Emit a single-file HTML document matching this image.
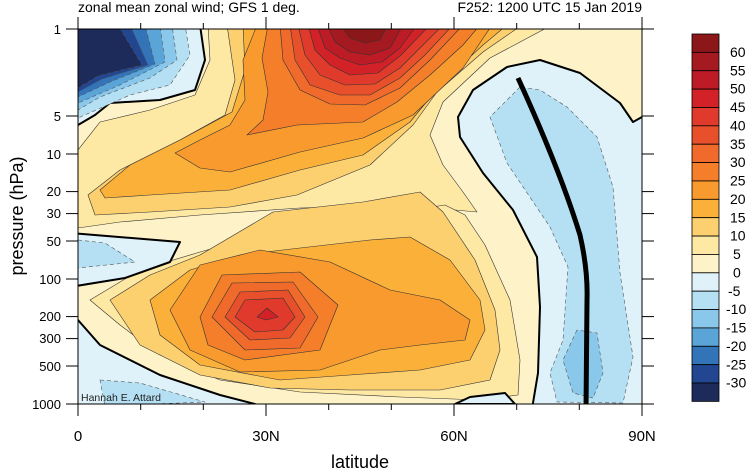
<!DOCTYPE html>
<html><head><meta charset="utf-8"><style>
html,body{margin:0;padding:0;background:#fff;}
svg{display:block;font-family:"Liberation Sans",sans-serif;}
</style></head><body>
<svg width="750" height="471" viewBox="0 0 750 471">
<defs><clipPath id="c"><rect x="78" y="29" width="564" height="375"/></clipPath></defs>
<g clip-path="url(#c)" stroke="#333" stroke-width="0.6" stroke-linejoin="round">
<rect x="78" y="29" width="564" height="375" fill="#fef3c8" stroke="none"/>
<!-- upper positive -->
<polygon fill="#fde8a4" points="208,25 552,25 490,58 443,102 430,135 443,165 463,192 477,212 400,205 300,208 200,215 120,222 78,228 78,150 100,122 150,110 195,95 210,60"/>
<polygon fill="#fcd06f" points="227,25 522,25 483,52 437,92 413,125 370,165 297,195 230,207 150,212 95,215 88,195 120,170 180,140 225,115 235,80"/>
<polygon fill="#fbb03a" points="243,25 507,25 483,45 443,82 410,122 363,155 300,170 230,190 150,195 105,198 100,190 130,165 180,140 232,112 245,70"/>
<polygon fill="#f99a2e" points="175,153 200,140 230,125 245,100 243,60 257,25 492,25 463,68 413,115 363,138 300,152 230,172 200,168"/>
<polygon fill="#f47e2a" points="268,25 262,58 268,92 263,120 247,135 297,125 363,122 397,102 430,75 463,45 480,25"/>
<polygon fill="#f06a2b" points="280,25 283,60 300,90 330,104 365,105 400,88 430,60 463,25"/>
<polygon fill="#e8502c" points="290,25 295,60 310,85 340,95 370,95 400,78 425,55 453,25"/>
<polygon fill="#df3a2b" points="298,25 305,55 320,75 345,85 375,84 400,68 420,48 443,25"/>
<polygon fill="#d32128" points="308,25 315,50 330,65 350,75 378,73 400,56 430,25"/>
<polygon fill="#bd1b25" points="317,25 325,48 340,58 360,65 382,62 400,48 417,25"/>
<polygon fill="#a51a20" points="327,25 335,42 350,52 370,55 390,48 403,25"/>
<polygon fill="#8c1719" points="340,25 350,38 365,43 380,40 388,25"/>
<!-- lower positive -->
<polygon fill="#fde8a4" points="90,300 140,270 200,252 260,235 320,222 400,212 445,205 465,215 485,245 510,300 520,360 518,395 480,400 400,397 300,392 220,380 160,355 120,325"/>
<polygon fill="#fcd06f" points="110,300 150,275 200,255 273,212 363,202 420,192 443,212 475,260 495,310 500,350 490,380 440,390 350,390 270,388 200,375 140,345"/>
<polygon fill="#fbb03a" points="150,300 190,270 240,255 300,248 370,240 410,237 450,260 480,300 485,330 470,360 420,370 350,375 280,380 200,365 160,335"/>
<polygon fill="#f99a2e" points="170,310 200,265 260,250 330,262 390,290 440,300 470,320 465,340 420,345 380,350 320,370 240,372 190,350"/>
<polygon fill="#f47e2a" points="200,317 222,275 300,272 338,305 320,350 245,360 208,345"/>
<polygon fill="#f06a2b" points="212,317 232,283 293,282 318,317 300,348 245,350"/>
<polygon fill="#e8502c" points="225,317 240,292 288,290 305,317 290,338 250,340"/>
<polygon fill="#df3a2b" points="235,317 245,300 283,298 295,317 283,330 255,332"/>
<polygon fill="#d32128" points="257,317 267,308 278,317 266,320"/>
<!-- negatives top-left -->
<polygon fill="#dff1f9" stroke="#000" stroke-width="2" points="70,25 200,25 205,60 195,90 160,100 110,103 95,115 78,125 70,130"/>
<polygon fill="#b5e0f4" stroke="#555" stroke-dasharray="4,3" points="78,25 185,25 190,55 170,85 130,95 78,118"/>
<polygon fill="#8ac8eb" stroke="#555" stroke-dasharray="4,3" points="78,25 172,25 177,60 150,78 100,97 78,110"/>
<polygon fill="#5ba4d7" stroke="#555" stroke-dasharray="4,3" points="78,25 160,25 165,62 120,85 78,103"/>
<polygon fill="#3373b7" stroke="#555" stroke-dasharray="4,3" points="78,25 145,25 155,64 110,82 78,97"/>
<polygon fill="#22468f" stroke="#555" stroke-dasharray="4,3" points="78,25 130,25 148,65 102,79 78,92"/>
<polygon fill="#1d2b5b" stroke="#555" stroke-dasharray="4,3" points="78,25 118,25 142,65 98,76 78,88"/>
<!-- left mid -->
<polygon fill="#dff1f9" stroke="#000" stroke-width="2" points="70,233 180,242 170,262 125,278 70,287"/>
<polygon fill="#b5e0f4" stroke="#555" stroke-dasharray="4,3" points="78,240 105,243 135,262 78,268"/>
<polygon fill="#dff1f9" stroke="#000" stroke-width="2" points="70,315 78,320 100,345 160,375 220,395 255,404 255,410 70,410"/>
<polygon fill="#b5e0f4" stroke="#555" stroke-dasharray="4,3" points="100,380 140,383 205,402 105,406"/>
<!-- right polar -->
<polygon fill="#dff1f9" stroke="#000" stroke-width="2" points="540,60 580,73 620,103 633,122 642,117 650,117 650,410 533,410 533,403 538,373 540,307 537,257 513,210 483,173 460,137 458,117 473,90 507,67"/>
<polygon fill="#b5e0f4" stroke="#555" stroke-dasharray="4,3" points="520,87 490,117 507,163 550,227 568,267 563,340 550,373 557,402 623,403 633,357 620,273 613,187 597,137 567,107 540,90"/>
<polygon fill="#8ac8eb" stroke="#555" stroke-dasharray="4,3" points="577,330 563,360 573,393 593,398 603,373 597,333"/>
<polygon fill="#dff1f9" stroke="#000" stroke-width="2" points="455,404 470,397 505,393 515,404"/>
<path d="M518,78 Q560,170 580,235 Q588,270 587,300 L586,410" fill="none" stroke="#000" stroke-width="5"/>
</g>
<!-- frame -->
<rect x="78" y="29" width="564" height="375" fill="none" stroke="#000" stroke-width="1"/>
<g stroke="#000" stroke-width="1">
<line x1="66" y1="29" x2="78" y2="29"/><line x1="66" y1="116" x2="78" y2="116"/><line x1="66" y1="154" x2="78" y2="154"/><line x1="66" y1="191.6" x2="78" y2="191.6"/><line x1="66" y1="213.6" x2="78" y2="213.6"/><line x1="66" y1="241" x2="78" y2="241"/><line x1="66" y1="279" x2="78" y2="279"/><line x1="66" y1="316.6" x2="78" y2="316.6"/><line x1="66" y1="338.6" x2="78" y2="338.6"/><line x1="66" y1="366" x2="78" y2="366"/><line x1="66" y1="404" x2="78" y2="404"/>
<line x1="642" y1="29" x2="654" y2="29"/><line x1="642" y1="116" x2="654" y2="116"/><line x1="642" y1="154" x2="654" y2="154"/><line x1="642" y1="191.6" x2="654" y2="191.6"/><line x1="642" y1="213.6" x2="654" y2="213.6"/><line x1="642" y1="241" x2="654" y2="241"/><line x1="642" y1="279" x2="654" y2="279"/><line x1="642" y1="316.6" x2="654" y2="316.6"/><line x1="642" y1="338.6" x2="654" y2="338.6"/><line x1="642" y1="366" x2="654" y2="366"/><line x1="642" y1="404" x2="654" y2="404"/>
<line x1="78" y1="404" x2="78" y2="416"/><line x1="266" y1="404" x2="266" y2="416"/><line x1="454" y1="404" x2="454" y2="416"/><line x1="642" y1="404" x2="642" y2="416"/>
<line x1="140.7" y1="404" x2="140.7" y2="410"/><line x1="203.3" y1="404" x2="203.3" y2="410"/><line x1="328.7" y1="404" x2="328.7" y2="410"/><line x1="391.3" y1="404" x2="391.3" y2="410"/><line x1="516.7" y1="404" x2="516.7" y2="410"/><line x1="579.3" y1="404" x2="579.3" y2="410"/>
<line x1="78" y1="29" x2="78" y2="17"/><line x1="266" y1="29" x2="266" y2="17"/><line x1="454" y1="29" x2="454" y2="17"/><line x1="642" y1="29" x2="642" y2="17"/>
<line x1="140.7" y1="29" x2="140.7" y2="23"/><line x1="203.3" y1="29" x2="203.3" y2="23"/><line x1="328.7" y1="29" x2="328.7" y2="23"/><line x1="391.3" y1="29" x2="391.3" y2="23"/><line x1="516.7" y1="29" x2="516.7" y2="23"/><line x1="579.3" y1="29" x2="579.3" y2="23"/>
</g>
<g font-size="13" text-anchor="end" fill="#000">
<text x="61" y="34">1</text><text x="61" y="121">5</text><text x="61" y="159">10</text><text x="61" y="196">20</text><text x="61" y="218">30</text><text x="61" y="246">50</text><text x="61" y="284">100</text><text x="61" y="321">200</text><text x="61" y="343">300</text><text x="61" y="371">500</text><text x="61" y="409">1000</text>
</g>
<g font-size="15" text-anchor="middle">
<text x="78" y="441">0</text><text x="266" y="441">30N</text><text x="454" y="441">60N</text><text x="642" y="441">90N</text>
</g>
<text x="360" y="468" font-size="18" text-anchor="middle">latitude</text>
<text transform="translate(23,216) rotate(-90)" font-size="18" text-anchor="middle">pressure (hPa)</text>
<text x="78" y="12" font-size="14">zonal mean zonal wind; GFS 1 deg.</text>
<text x="642" y="12" font-size="14" text-anchor="end">F252: 1200 UTC 15 Jan 2019</text>
<text x="81" y="401" font-size="10.5" fill="#222">Hannah E. Attard</text>
<!-- colorbar -->
<g stroke="#000" stroke-width="0.8">
<rect x="692" y="34" width="27" height="18.37" fill="#8c1719"/>
<rect x="692" y="52.37" width="27" height="18.37" fill="#a51a20"/>
<rect x="692" y="70.74" width="27" height="18.37" fill="#bd1b25"/>
<rect x="692" y="89.11" width="27" height="18.37" fill="#d32128"/>
<rect x="692" y="107.48" width="27" height="18.37" fill="#df3a2b"/>
<rect x="692" y="125.85" width="27" height="18.37" fill="#e8502c"/>
<rect x="692" y="144.22" width="27" height="18.37" fill="#f06a2b"/>
<rect x="692" y="162.59" width="27" height="18.37" fill="#f47e2a"/>
<rect x="692" y="180.96" width="27" height="18.37" fill="#f99a2e"/>
<rect x="692" y="199.33" width="27" height="18.37" fill="#fbb03a"/>
<rect x="692" y="217.7" width="27" height="18.37" fill="#fcd06f"/>
<rect x="692" y="236.07" width="27" height="18.37" fill="#fde8a4"/>
<rect x="692" y="254.44" width="27" height="18.37" fill="#fef3c8"/>
<rect x="692" y="272.81" width="27" height="18.37" fill="#dff1f9"/>
<rect x="692" y="291.18" width="27" height="18.37" fill="#b5e0f4"/>
<rect x="692" y="309.55" width="27" height="18.37" fill="#8ac8eb"/>
<rect x="692" y="327.92" width="27" height="18.37" fill="#5ba4d7"/>
<rect x="692" y="346.29" width="27" height="18.37" fill="#3373b7"/>
<rect x="692" y="364.66" width="27" height="18.37" fill="#22468f"/>
<rect x="692" y="383.03" width="27" height="18.37" fill="#1d2b5b"/>
</g>
<g font-size="14">
<text x="730" y="57">60</text><text x="730" y="75.4">55</text><text x="730" y="93.7">50</text><text x="730" y="112.1">45</text><text x="730" y="130.5">40</text><text x="730" y="148.8">35</text><text x="730" y="167.2">30</text><text x="730" y="185.6">25</text><text x="730" y="204">20</text><text x="730" y="222.3">15</text><text x="730" y="240.7">10</text><text x="733" y="259.1">5</text><text x="733" y="277.4">0</text><text x="728" y="295.8">-5</text><text x="726" y="314.2">-10</text><text x="726" y="332.6">-15</text><text x="726" y="350.9">-20</text><text x="726" y="369.3">-25</text><text x="726" y="387.7">-30</text>
</g>
</svg>
</body></html>
